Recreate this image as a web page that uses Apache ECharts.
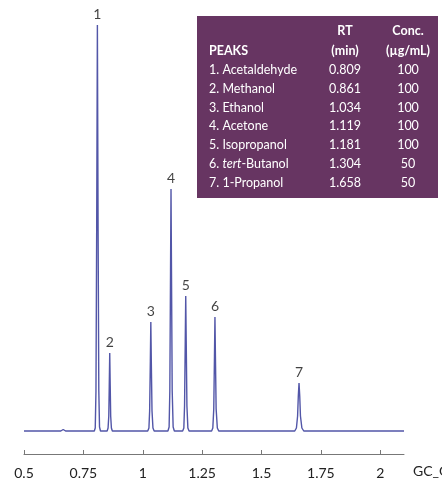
<!DOCTYPE html>
<html>
<head>
<meta charset="utf-8">
<script src="https://cdn.jsdelivr.net/npm/echarts@6/dist/echarts.min.js"></script>
<style>
html,body{margin:0;padding:0;background:#fff;}
#chart{width:442px;height:481px;}
</style>
</head>
<body>
<div id="chart"></div>
<script>
// ---- data ----
var peakLabels = ['1', '2', '3', '4', '5', '6', '7'];
var peakNames = ['Acetaldehyde', 'Methanol', 'Ethanol', 'Acetone', 'Isopropanol', 'tert-Butanol', '1-Propanol'];
var peakRT = [0.809, 0.861, 1.034, 1.119, 1.181, 1.304, 1.658];
var peakConc = [100, 100, 100, 100, 100, 50, 50];
var peakHeights = [406, 78, 109, 242, 135, 114, 48];

var traceX = [0.5, 0.60, 0.655, 0.665, 0.675, 0.75,
  0.796, 0.800, 0.803, 0.806, 0.809, 0.812, 0.815, 0.818, 0.822, 0.836,
  0.850, 0.854, 0.857, 0.859, 0.861, 0.863, 0.865, 0.868, 0.872, 0.95,
  1.021, 1.026, 1.029, 1.032, 1.034, 1.036, 1.039, 1.043, 1.048, 1.077,
  1.106, 1.111, 1.114, 1.117, 1.119, 1.121, 1.124, 1.128, 1.133, 1.150,
  1.168, 1.173, 1.176, 1.179, 1.181, 1.183, 1.186, 1.190, 1.195, 1.24,
  1.290, 1.295, 1.299, 1.302, 1.304, 1.306, 1.309, 1.314, 1.320, 1.48,
  1.640, 1.647, 1.652, 1.655, 1.658, 1.661, 1.664, 1.670, 1.678, 1.9,
  2.1];
var traceY = [0, 0, 0, 1.5, 0, 0,
  0, 3, 40, 200, 406, 200, 40, 4, 0, 0,
  0, 3, 15, 45, 78, 45, 15, 3, 0, 0,
  0, 3, 20, 70, 109, 70, 20, 3, 0, 0,
  0, 4, 40, 160, 242, 160, 40, 4, 0, 0,
  0, 3, 25, 90, 135, 90, 25, 3, 0, 0,
  0, 3, 22, 75, 114, 75, 22, 3, 0, 0,
  0, 3, 15, 35, 48, 35, 15, 3, 0, 0,
  0];

var tickValues = [0.5, 0.75, 1, 1.25, 1.5, 1.75, 2];
var axisName = 'GC_CF';

// ---- build ----
var lineData = traceX.map(function (x, i) { return [x, traceY[i]]; });
var labelData = peakRT.map(function (x, i) { return { value: [x, peakHeights[i]], name: peakLabels[i] }; });

var FONT = 'Lato, "Open Sans", "Noto Sans", sans-serif';
var NARROW = '"Liberation Sans Narrow", Lato, sans-serif';
var tableLeft = 197, tableTop = 16, tableW = 241, tableH = 182;
var nameX = 209, rtX = 345, concX = 408;
var rowY0 = 70, rowStep = 18.8;

var graphics = [{
  type: 'rect', left: tableLeft, top: tableTop, z: 10,
  shape: { width: tableW, height: tableH },
  style: { fill: '#673562' }
}];
function txt(x, y, text, align, bold, rich) {
  var g = {
    type: 'text', x: x, y: y, z: 11,
    style: {
      text: text, fill: '#ffffff', font: (bold ? 'bold ' : '') + '12.5px ' + FONT,
      textAlign: align, textVerticalAlign: 'middle'
    }
  };
  if (rich) g.style.rich = rich;
  return g;
}
graphics.push(txt(rtX, 31, 'RT', 'center', true));
graphics.push(txt(concX, 31, 'Conc.', 'center', true));
graphics.push(txt(nameX, 51, 'PEAKS', 'left', true));
graphics.push(txt(rtX, 51, '(min)', 'center', true));
graphics.push(txt(concX, 51, '(\u00b5g/mL)', 'center', true));
var richStyles = {
  n: { fill: '#ffffff', font: '12.5px ' + FONT },
  i: { fill: '#ffffff', font: 'italic 12.5px ' + FONT }
};
peakNames.forEach(function (nm, i) {
  var y = rowY0 + i * rowStep;
  var label;
  if (nm.indexOf('tert-') === 0) {
    label = '{n|' + peakLabels[i] + '. }{i|tert}{n|' + nm.slice(4) + '}';
    graphics.push(txt(nameX, y, label, 'left', false, richStyles));
  } else {
    graphics.push(txt(nameX, y, peakLabels[i] + '. ' + nm, 'left', false));
  }
  graphics.push(txt(rtX, y, peakRT[i].toFixed(3), 'center', false));
  graphics.push(txt(concX, y, String(peakConc[i]), 'center', false));
});

var chart = echarts.init(document.getElementById('chart'), null, { renderer: 'canvas' });
chart.setOption({
  animation: false,
  backgroundColor: '#ffffff',
  grid: { left: 24, right: 38, top: 25, bottom: 27, containLabel: false, outerBoundsMode: 'none' },
  xAxis: {
    type: 'value', min: 0.5, max: 2.1, interval: 0.25,
    name: axisName, nameLocation: 'end', nameGap: 9,
    nameTextStyle: { color: '#222', fontSize: 14, fontFamily: NARROW, verticalAlign: 'top', padding: [10, 0, 0, 0] },
    axisLine: { show: true, onZero: false, lineStyle: { color: '#777', width: 1 } },
    axisTick: { show: true, inside: true, length: 4, customValues: tickValues, lineStyle: { color: '#777' } },
    axisLabel: { customValues: tickValues, color: '#222', fontSize: 14, fontFamily: FONT, margin: 12,
      formatter: function (v) { return String(v); } },
    splitLine: { show: false }
  },
  yAxis: {
    type: 'value', min: -23, max: 406, show: false,
    splitLine: { show: false }
  },
  series: [{
    type: 'line', data: lineData, symbol: 'none', smooth: false, clip: false,
    lineStyle: { color: '#5256a8', width: 1.4 }, z: 2
  }, {
    type: 'scatter', data: labelData, symbolSize: 0.1, z: 3,
    label: { show: true, position: 'top', distance: 3, color: '#111', fontSize: 14, fontFamily: FONT,
      formatter: function (p) { return p.name; } }
  }],
  graphic: graphics
});
</script>
</body>
</html>
